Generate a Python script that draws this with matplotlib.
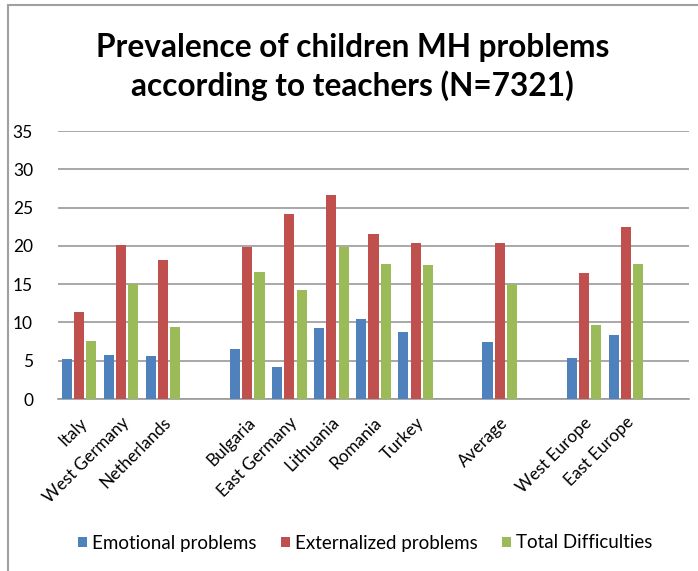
import matplotlib
matplotlib.use("Agg")
import matplotlib.pyplot as plt
from matplotlib.patches import Rectangle
import numpy as np

categories = ["Italy", "West Germany", "Netherlands", "", "Bulgaria", "East Germany",
              "Lithuania", "Romania", "Turkey", "", "Average", "", "West Europe",
              "East Europe", ""]
emotional = [5.2, 5.7, 5.6, None, 6.5, 4.2, 9.3, 10.4, 8.8, None, 7.5, None, 5.4, 8.4, None]
externalized = [11.3, 20.1, 18.2, None, 19.8, 24.1, 26.7, 21.5, 20.4, None, 20.4, None, 16.4, 22.4, None]
total = [7.6, 15.0, 9.4, None, 16.6, 14.2, 19.8, 17.6, 17.5, None, 15.0, None, 9.6, 17.6, None]
series_names = ["Emotional problems", "Externalized problems", "Total Difficulties"]
colors = ["#4F81BD", "#C0504D", "#9BBB59"]
yticks = [0, 5, 10, 15, 20, 25, 30, 35]
title = "Prevalence of children MH problems\naccording to teachers (N=7321)"

plt.rcParams['font.family'] = ['Lato', 'DejaVu Sans']

fig = plt.figure(figsize=(6.98, 5.71), dpi=100)
ax = fig.add_axes([58/698, 1-399/571, 631/698, 268/571])

x = np.arange(len(categories))
width = 0.24
offsets = [-0.29, 0.0, 0.29]
for vals, off, c, name in zip([emotional, externalized, total], offsets, colors, series_names):
    xs = [xi + off for xi, v in zip(x, vals) if v is not None]
    ys = [v for v in vals if v is not None]
    ax.bar(xs, ys, width=width, color=c, label=name, zorder=3)

ax.set_xlim(-0.5, len(categories) - 0.5)
ax.set_ylim(0, 35)
ax.set_yticks(yticks)
ax.set_yticklabels([str(t) for t in yticks], fontsize=12.5)
ax.yaxis.grid(True, color="#9a9a9a", linewidth=1.2, zorder=0)
ax.set_axisbelow(True)
ax.tick_params(axis='y', length=0, pad=18)
ax.tick_params(axis='x', length=0, pad=11)
for s in ["top", "right", "left"]:
    ax.spines[s].set_visible(False)
ax.spines["bottom"].set_color("#9a9a9a")
ax.spines["bottom"].set_linewidth(1.2)

ax.set_xticks(x)
ax.set_xticklabels(categories, rotation=45, ha='right', va='top',
                   rotation_mode='anchor', fontsize=12.3)

fig.text(0.505, 1 - 67/571, title, ha='center', va='center', fontsize=22.8,
         fontweight='bold', linespacing=1.35)

handles, labels = ax.get_legend_handles_labels()
fig.legend(handles, labels, loc='center', bbox_to_anchor=(365/698, 1 - 543/571),
           ncol=3, frameon=False, fontsize=13.5, handlelength=0.5, handleheight=0.5,
           handletextpad=0.25, columnspacing=1.3)

frame = Rectangle((8/698, -0.1), 1.2, 1 - 5/571 + 0.1, transform=fig.transFigure,
                  fill=False, edgecolor="#a0a0a0", linewidth=1.5, figure=fig)
fig.patches.append(frame)

fig.savefig("out.png", dpi=100)
